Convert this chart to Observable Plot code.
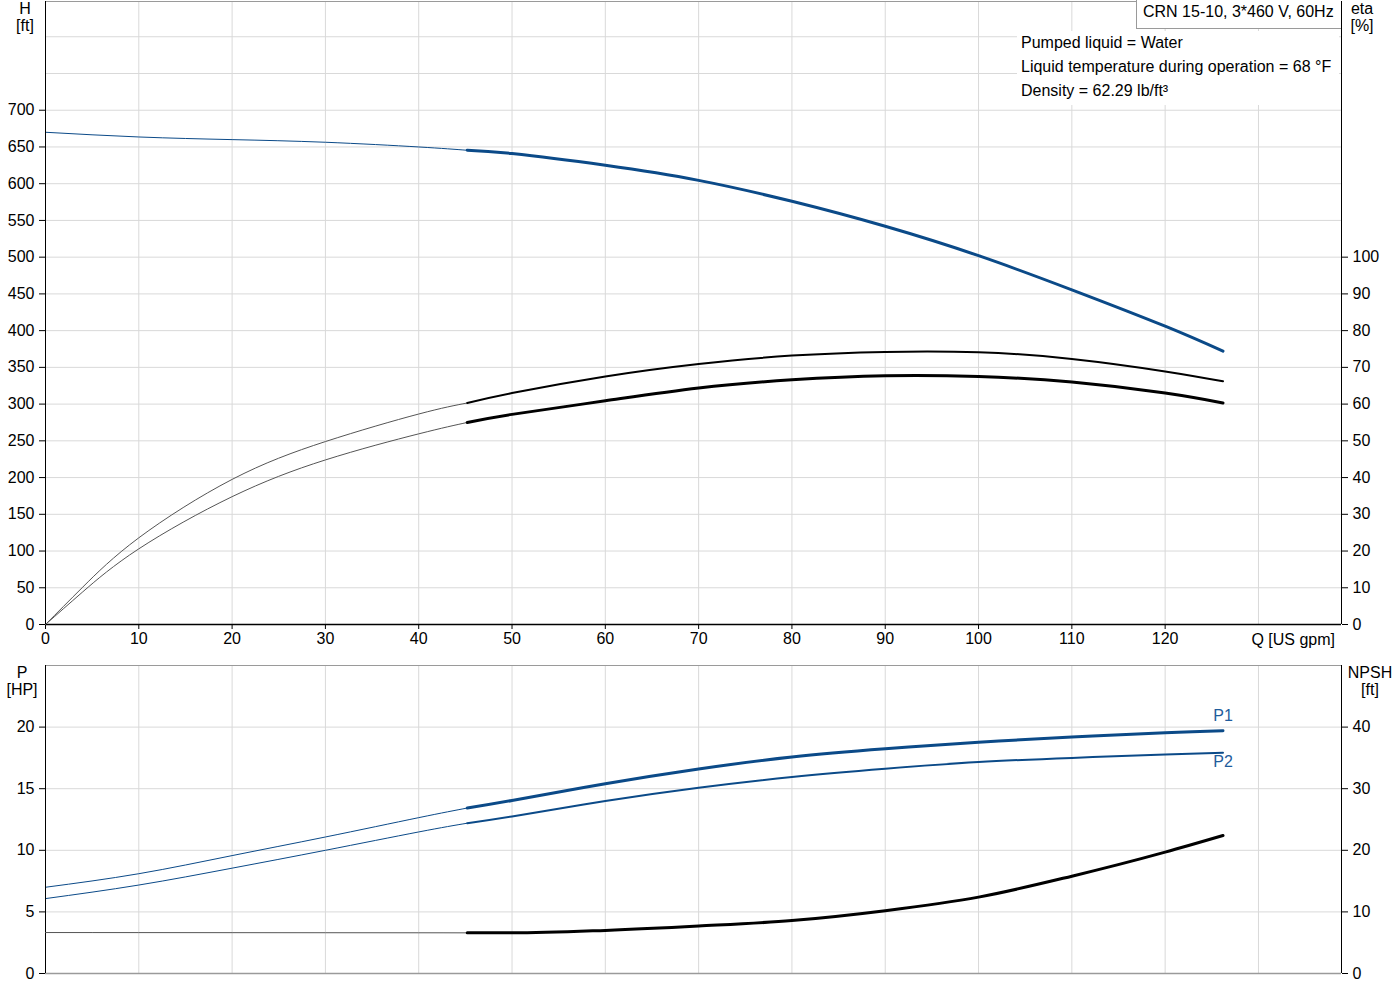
<!DOCTYPE html>
<html><head><meta charset="utf-8">
<script src="https://cdn.jsdelivr.net/npm/d3@7"></script>
<script src="https://cdn.jsdelivr.net/npm/@observablehq/plot@0.6"></script>
<style>
body{margin:0;background:#fff;font-family:"Liberation Sans",Arial,sans-serif;}
#wrap{position:relative;width:1400px;height:1000px;overflow:hidden;}
#wrap svg{position:absolute;left:0;}
.lbl{position:absolute;font-size:16px;color:#000;text-align:center;line-height:17px;}
#title{position:absolute;left:1136px;top:0;width:198px;height:28px;border-left:1px solid #9a9a9a;border-bottom:1px solid #9a9a9a;background:#fff;font-size:16px;line-height:24px;padding-left:6px;color:#000;white-space:nowrap;}
#info{position:absolute;left:1017px;top:31px;width:318px;height:74px;background:#fff;font-size:16px;line-height:24px;padding-left:4px;color:#000;white-space:nowrap;}
</style></head><body><div id="wrap"></div>
<script>
// ---- data ----
const Q_thin = [0, 10, 20, 30, 40, 45.2];
const Q_main = [45.2, 50, 60, 70, 80, 90, 100, 110, 120, 126.2];
const Q_eta_thin = [0, 4, 10, 20, 30, 40, 45.2];

const H_thin = [670, 663.6, 660, 656.4, 650, 645.5];
const H_main = [645.5, 641, 625, 604.5, 576, 542, 502, 455.5, 406, 372];

const eta1_thin = [0, 10.2, 23.6, 39.5, 49.8, 57.3, 60.3];
const eta1_main = [60.3, 63.0, 67.5, 70.9, 73.2, 74.2, 74.1, 72.3, 68.9, 66.2];
const eta2_thin = [0, 8.9, 20.6, 34.8, 44.8, 51.9, 55.0];
const eta2_main = [55.0, 57.2, 60.9, 64.4, 66.6, 67.7, 67.5, 66.0, 63.0, 60.3];

const P1_thin = [7.0, 8.1, 9.57, 11.08, 12.65, 13.43];
const P1_main = [13.43, 14.05, 15.4, 16.6, 17.57, 18.24, 18.78, 19.19, 19.54, 19.7];
const P2_thin = [6.08, 7.18, 8.55, 10.0, 11.49, 12.2];
const P2_main = [12.2, 12.75, 14.0, 15.08, 15.95, 16.62, 17.16, 17.5, 17.78, 17.92];

const NPSH_thin = [6.65, 6.64, 6.63, 6.62, 6.61, 6.6];
const NPSH_main = [6.6, 6.6, 7.0, 7.7, 8.6, 10.2, 12.4, 15.8, 19.7, 22.4];

const xTickLabels = [0, 10, 20, 30, 40, 50, 60, 70, 80, 90, 100, 110, 120];
const xGridLines = [10, 20, 30, 40, 50, 60, 70, 80, 90, 100, 110, 120, 130];
const H_ticks = [0, 50, 100, 150, 200, 250, 300, 350, 400, 450, 500, 550, 600, 650, 700];
const H_grid = [50, 100, 150, 200, 250, 300, 350, 400, 450, 500, 550, 600, 650, 700, 750, 800];
const eta_ticks = [0, 10, 20, 30, 40, 50, 60, 70, 80, 90, 100];
const P_ticks = [0, 5, 10, 15, 20];
const P_grid = [5, 10, 15, 20];
const NPSH_ticks = [0, 10, 20, 30, 40];

// ---- setup ----
const rows = (qs, vs) => qs.map((q, i) => ({q, v: vs[i]}));
const W = 1400, ML = 45, MR = 59;
const X_MAX = 138.9, H_MAX = 848;
const BLUE = "#0b4a88", GRID = "#d9d9d9", EDGE = "#9a9a9a";
const style = {fontFamily: "'Liberation Sans', Arial, sans-serif", fontSize: "16px", background: "transparent", color: "#000", overflow: "visible"};
const wrap = document.getElementById("wrap");

function place(svg, top) { svg.style.top = top + "px"; wrap.appendChild(svg); }

const topH = Plot.plot({
  width: W, height: 655, marginLeft: ML, marginRight: MR, marginTop: 1, marginBottom: 31,
  x: {domain: [0, X_MAX], axis: null}, y: {domain: [0, H_MAX], axis: null},
  style,
  marks: [
    Plot.ruleX(xGridLines, {stroke: GRID}),
    Plot.ruleY(H_grid, {stroke: GRID}),
    Plot.ruleY([H_MAX], {stroke: EDGE}),
    Plot.axisY({ticks: H_ticks, tickSize: 6, tickPadding: 5, label: null}),
    Plot.axisX({ticks: xTickLabels, tickSize: 5, tickPadding: 3, label: null}),
    Plot.text(["Q [US gpm]"], {x: 130, y: 0, text: d => d, dx: -7, dy: 15, textAnchor: "start", fill: "#000"}),
    Plot.line(rows(Q_thin, H_thin), {x: "q", y: "v", stroke: BLUE, strokeWidth: 1, curve: "natural"}),
    Plot.line(rows(Q_main, H_main), {x: "q", y: "v", stroke: BLUE, strokeWidth: 3, curve: "natural"}),
    Plot.ruleX([0], {stroke: "#000"}),
    Plot.ruleY([0], {stroke: "#000", strokeWidth: 1.5}),
    Plot.ruleX([X_MAX], {stroke: "#000"})
  ]
});
place(topH, 0);

const topEta = Plot.plot({
  width: W, height: 655, marginLeft: ML, marginRight: MR, marginTop: 1, marginBottom: 31,
  x: {domain: [0, X_MAX], axis: null}, y: {domain: [0, H_MAX / 5], axis: null},
  style,
  marks: [
    Plot.axisY({anchor: "right", ticks: eta_ticks, tickSize: 6, tickPadding: 5, label: null}),
    Plot.line(rows(Q_eta_thin, eta1_thin), {x: "q", y: "v", stroke: "#555", strokeWidth: 1, curve: "natural"}),
    Plot.line(rows(Q_eta_thin, eta2_thin), {x: "q", y: "v", stroke: "#555", strokeWidth: 1, curve: "natural"}),
    Plot.line(rows(Q_main, eta1_main), {x: "q", y: "v", stroke: "#000", strokeWidth: 2, curve: "natural"}),
    Plot.line(rows(Q_main, eta2_main), {x: "q", y: "v", stroke: "#000", strokeWidth: 3, curve: "natural"})
  ]
});
place(topEta, 0);

const botP = Plot.plot({
  width: W, height: 345, marginLeft: ML, marginRight: MR, marginTop: 10, marginBottom: 27,
  x: {domain: [0, X_MAX], axis: null}, y: {domain: [0, 25], axis: null},
  style,
  marks: [
    Plot.ruleX(xGridLines, {stroke: GRID}),
    Plot.ruleY(P_grid, {stroke: GRID}),
    Plot.ruleY([25], {stroke: EDGE}),
    Plot.ruleY([0], {stroke: EDGE, strokeWidth: 1.5}),
    Plot.axisY({ticks: P_ticks, tickSize: 6, tickPadding: 5, label: null}),
    Plot.line(rows(Q_thin, P1_thin), {x: "q", y: "v", stroke: BLUE, strokeWidth: 1, curve: "natural"}),
    Plot.line(rows(Q_thin, P2_thin), {x: "q", y: "v", stroke: BLUE, strokeWidth: 1, curve: "natural"}),
    Plot.line(rows(Q_main, P1_main), {x: "q", y: "v", stroke: BLUE, strokeWidth: 3, curve: "natural"}),
    Plot.line(rows(Q_main, P2_main), {x: "q", y: "v", stroke: BLUE, strokeWidth: 2, curve: "natural"}),
    Plot.text(rows(Q_main, P1_main), Plot.selectLast({x: "q", y: "v", text: () => "P1", dy: -15, fill: "#1f5c9c"})),
    Plot.text(rows(Q_main, P2_main), Plot.selectLast({x: "q", y: "v", text: () => "P2", dy: 9, fill: "#1f5c9c"})),
    Plot.ruleX([0], {stroke: "#000"}),
    Plot.ruleX([X_MAX], {stroke: "#000"})
  ]
});
place(botP, 655);

const botN = Plot.plot({
  width: W, height: 345, marginLeft: ML, marginRight: MR, marginTop: 10, marginBottom: 27,
  x: {domain: [0, X_MAX], axis: null}, y: {domain: [0, 50], axis: null},
  style,
  marks: [
    Plot.axisY({anchor: "right", ticks: NPSH_ticks, tickSize: 6, tickPadding: 5, label: null}),
    Plot.line(rows(Q_thin, NPSH_thin), {x: "q", y: "v", stroke: "#555", strokeWidth: 1, curve: "monotone-x"}),
    Plot.line(rows(Q_main, NPSH_main), {x: "q", y: "v", stroke: "#000", strokeWidth: 3, curve: "monotone-x"})
  ]
});
place(botN, 655);

// ---- texts ----
function lbl(html, left, top, width) {
  const d = document.createElement("div");
  d.className = "lbl"; d.innerHTML = html;
  d.style.left = left + "px"; d.style.top = top + "px"; d.style.width = width + "px";
  wrap.appendChild(d);
}
lbl("H<br>[ft]", 0, 0, 50);
lbl("eta<br>[%]", 1342, 0, 40);
lbl("P<br>[HP]", 0, 664, 44);
lbl("NPSH<br>[ft]", 1345, 664, 50);

const t = document.createElement("div"); t.id = "title";
t.textContent = "CRN 15-10, 3*460 V, 60Hz"; wrap.appendChild(t);
const info = document.createElement("div"); info.id = "info";
info.innerHTML = "Pumped liquid = Water<br>Liquid temperature during operation = 68 °F<br>Density = 62.29 lb/ft³";
wrap.appendChild(info);
</script></body></html>
